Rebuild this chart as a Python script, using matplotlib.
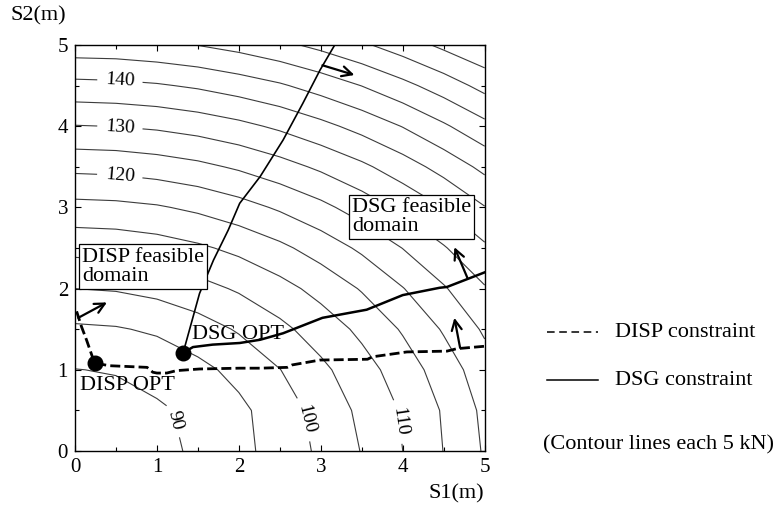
"""Contour map of force (kN) over S1/S2 spacing with DISP and DSG constraint curves."""

import matplotlib

matplotlib.use("Agg")
import matplotlib.pyplot as plt
import numpy as np
from matplotlib.lines import Line2D

plt.rcParams["font.family"] = ["Liberation Serif", "DejaVu Serif"]

# grid nodes (m) and force values (kN), rows follow S2
S1_NODES = [0.0, 0.5, 1.0, 1.5, 2.0, 2.5, 3.0, 3.5, 4.0, 4.5, 5.0]
S2_NODES = [0.0, 0.5, 1.0, 1.5, 2.0, 2.5, 3.0, 3.5, 4.0, 4.5, 5.0]
FORCE_KN = [
    [85.5, 87.1, 88.8, 90.7, 93.6, 97.0, 100.9, 105.2, 110.0, 115.1, 120.5],
    [87.7, 88.2, 89.3, 91.1, 93.9, 97.5, 101.7, 106.1, 110.5, 115.5, 121.1],
    [89.9, 90.3, 91.7, 93.7, 96.4, 99.9, 103.9, 108.0, 112.4, 117.4, 122.8],
    [94.2, 94.6, 95.7, 97.8, 100.5, 103.8, 107.3, 111.1, 115.5, 120.5, 125.7],
    [100.0, 100.4, 101.5, 103.3, 105.6, 108.3, 111.6, 115.4, 119.8, 124.5, 129.6],
    [106.5, 106.8, 107.7, 109.2, 111.2, 113.9, 117.2, 120.9, 125.1, 129.6, 134.2],
    [113.4, 113.7, 114.5, 116.0, 118.1, 120.7, 123.7, 127.3, 131.1, 135.1, 139.8],
    [121.3, 121.6, 122.5, 123.8, 125.7, 128.1, 130.9, 134.0, 137.7, 141.8, 146.3],
    [129.8, 130.1, 130.8, 132.0, 133.7, 135.9, 138.6, 141.7, 145.2, 149.3, 153.6],
    [138.5, 138.8, 139.5, 140.7, 142.4, 144.4, 147.1, 150.1, 153.6, 157.4, 161.6],
    [148.0, 148.2, 149.0, 150.1, 151.7, 153.8, 156.3, 159.2, 162.5, 166.1, 169.4],
]
LABEL_LEVELS = [90, 100, 110, 120, 130, 140]
PLAIN_LEVELS = [95, 105, 115, 125, 135, 145, 150, 155, 160, 165]
LABEL_SPOTS = [(1.22, 0.38), (2.74, 0.38), (3.94, 0.36), (0.55, 3.42), (0.55, 4.01), (0.55, 4.58)]

# DISP constraint (dashed)
DISP_S1 = [0.02, 0.08, 0.14, 0.24, 0.43, 0.88, 0.95, 1.0, 1.12, 1.24, 1.52, 2.01,
           2.26, 2.59, 2.65, 2.99, 3.57, 3.63, 4.05, 4.54, 4.66, 5.0]
DISP_S2 = [1.72, 1.53, 1.37, 1.08, 1.05, 1.03, 0.97, 0.96, 0.96, 0.99, 1.01, 1.02,
           1.02, 1.03, 1.06, 1.12, 1.13, 1.16, 1.22, 1.23, 1.26, 1.29]

# DSG constraint (solid): branch up to the top edge and branch to the right edge
DSG_UP_S1 = [1.32, 1.52, 1.69, 1.87, 2.01, 2.26, 2.54, 2.78, 2.99, 3.17]
DSG_UP_S2 = [1.21, 1.94, 2.35, 2.72, 3.05, 3.38, 3.83, 4.28, 4.69, 5.0]
DSG_RIGHT_S1 = [1.32, 1.44, 1.68, 2.01, 2.26, 2.54, 3.02, 3.56, 4.0, 4.45, 4.54, 5.0]
DSG_RIGHT_S2 = [1.21, 1.28, 1.31, 1.33, 1.37, 1.45, 1.64, 1.74, 1.92, 2.01, 2.02, 2.20]

# optimum points
OPT_S1 = [0.24, 1.32]
OPT_S2 = [1.08, 1.21]

# feasible-direction arrows: (tail, head)
ARROWS = [
    ((3.02, 4.75), (3.41, 4.63)),
    ((0.04, 1.64), (0.39, 1.83)),
    ((4.79, 2.13), (4.63, 2.51)),
    ((4.70, 1.27), (4.63, 1.64)),
]

fig = plt.figure(figsize=(7.77, 5.11), dpi=100)
ax = fig.add_axes([0.0965, 0.1174, 0.5273, 0.7946])

force = np.array(FORCE_KN)
ax.contour(S1_NODES, S2_NODES, force, levels=PLAIN_LEVELS,
           colors="#3c3c3c", linewidths=0.8)
cs = ax.contour(S1_NODES, S2_NODES, force, levels=LABEL_LEVELS,
                colors="#3c3c3c", linewidths=0.8)
ax.clabel(cs, manual=LABEL_SPOTS, inline=True, fmt="%d",
          fontsize=14, colors="black", inline_spacing=8)

ax.plot(DISP_S1, DISP_S2, color="black", lw=2.0, ls=(0, (3.6, 1.5)), zorder=4)
ax.plot(DSG_UP_S1, DSG_UP_S2, color="black", lw=1.2, zorder=4)
ax.plot(DSG_RIGHT_S1, DSG_RIGHT_S2, color="black", lw=1.8, zorder=4)
ax.scatter(OPT_S1, OPT_S2, s=110, color="black", zorder=5)

for tail, head in ARROWS:
    ax.annotate("", xy=head, xytext=tail,
                arrowprops=dict(arrowstyle="->", color="black", lw=1.6,
                                mutation_scale=18, shrinkA=0, shrinkB=0),
                zorder=5)

ax.text(0.06, 0.81, "DISP OPT", fontsize=16, ha="left", va="center", zorder=6)
ax.text(1.43, 1.43, "DSG OPT", fontsize=16, ha="left", va="center", zorder=6)

box = dict(boxstyle="square,pad=0.15", fc="white", ec="black", lw=0.9)
ax.text(0.085, 2.27, "DISP feasible\ndomain", fontsize=16, ha="left", va="center",
        linespacing=1.0, bbox=box, zorder=7)
ax.text(3.38, 2.88, "DSG feasible\ndomain", fontsize=16, ha="left", va="center",
        linespacing=1.0, bbox=box, zorder=7)

ax.set_xlim(0, 5)
ax.set_ylim(0, 5)
ax.set_xticks(range(6))
ax.set_yticks(range(6))
ax.set_xticks(np.arange(0, 5.01, 0.5), minor=True)
ax.set_yticks(np.arange(0, 5.01, 0.5), minor=True)
ax.tick_params(which="both", direction="in", top=True, right=True, width=0.8)
ax.tick_params(which="major", length=4, labelsize=15, pad=5)
ax.tick_params(which="minor", length=3)
for sp in ax.spines.values():
    sp.set_linewidth(1.0)

fig.text(0.049, 0.969, "S2(m)", fontsize=16, ha="center", va="center")
fig.text(0.587, 0.033, "S1(m)", fontsize=16, ha="center", va="center")

# legend drawn at figure level
fig.add_artist(Line2D([0.704, 0.770], [0.350, 0.350], transform=fig.transFigure,
                      color="black", lw=1.1, ls=(0, (5, 3))))
fig.add_artist(Line2D([0.704, 0.770], [0.256, 0.256], transform=fig.transFigure,
                      color="black", lw=1.1))
fig.text(0.7915, 0.350, "DISP constraint", fontsize=16, ha="left", va="center")
fig.text(0.7915, 0.256, "DSG constraint", fontsize=16, ha="left", va="center")
fig.text(0.699, 0.129, "(Contour lines each 5 kN)", fontsize=16, ha="left", va="center")

fig.savefig("out.png", dpi=100)
